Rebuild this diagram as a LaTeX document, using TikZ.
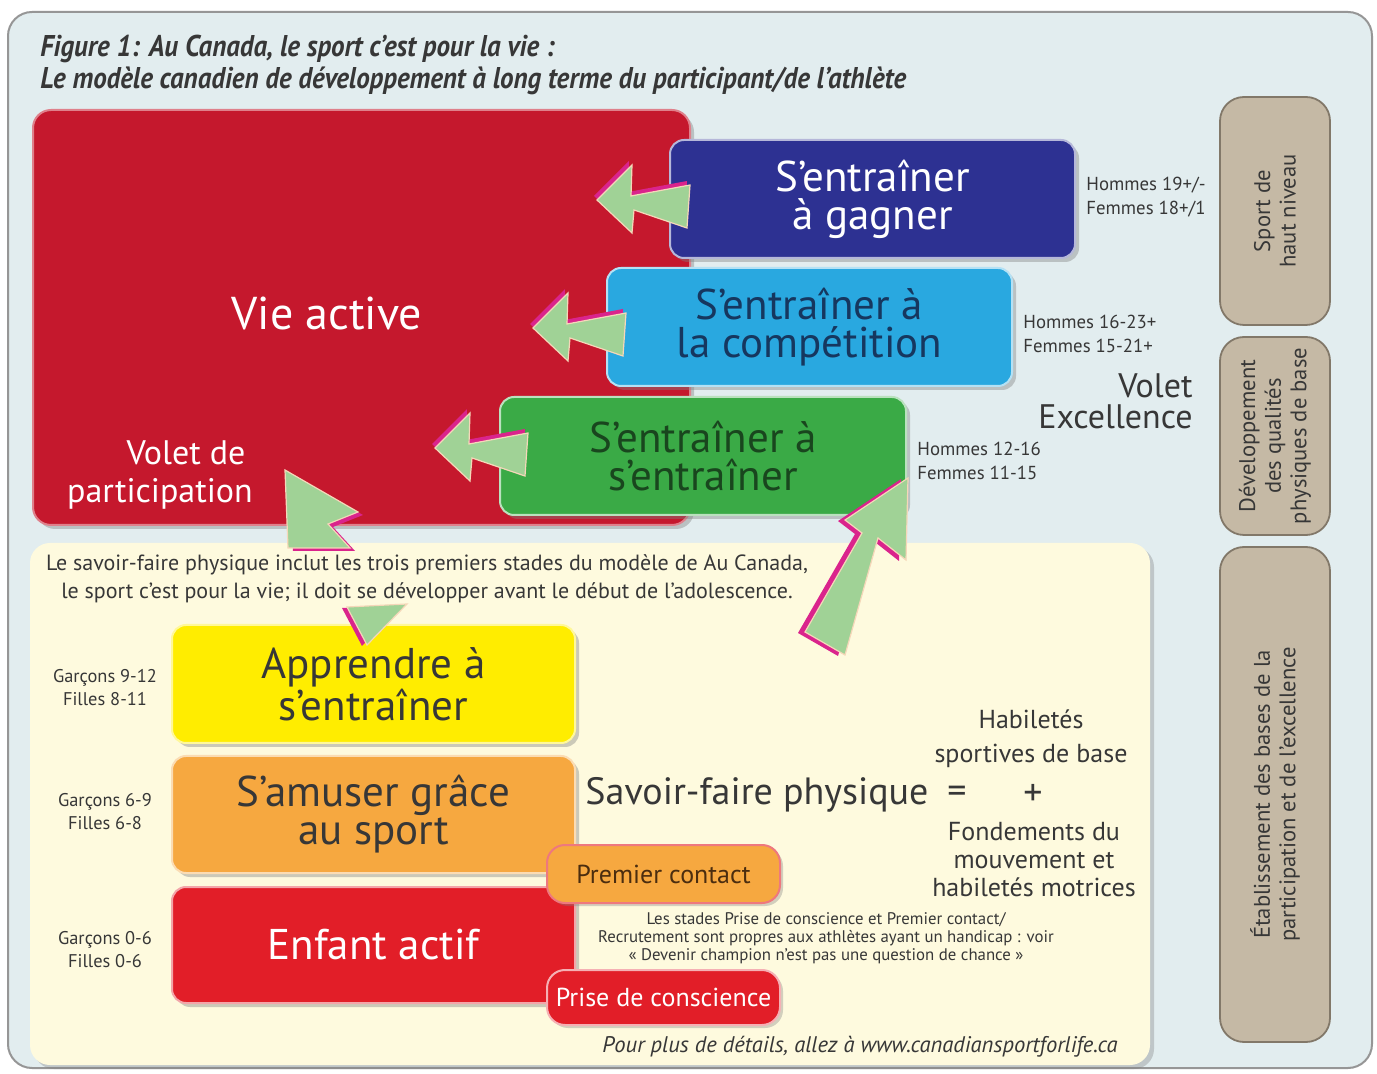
\documentclass[tikz,border=0pt]{standalone}
\usepackage{fontspec}
\setmainfont{PT Sans}
\newfontfamily\condfont[FakeStretch=0.9]{PT Sans}
\usetikzlibrary{shadows}
\definecolor{bgc}{RGB}{226,237,239}
\definecolor{framec}{RGB}{150,150,150}
\definecolor{redbig}{RGB}{197,24,45}
\definecolor{bluec}{RGB}{45,49,146}
\definecolor{ltbluec}{RGB}{41,168,224}
\definecolor{greenc}{RGB}{58,170,70}
\definecolor{creamc}{RGB}{254,250,222}
\definecolor{yellowc}{RGB}{255,237,0}
\definecolor{orangec}{RGB}{246,168,64}
\definecolor{red2c}{RGB}{226,30,40}
\definecolor{tanc}{RGB}{197,185,165}
\definecolor{tanedge}{RGB}{130,120,105}
\definecolor{argreen}{RGB}{160,210,150}
\definecolor{armag}{RGB}{218,36,140}
\definecolor{aredge}{RGB}{245,215,185}
\definecolor{darktext}{RGB}{55,55,55}
\definecolor{navytext}{RGB}{22,55,95}
\definecolor{dgreentext}{RGB}{25,70,30}
\definecolor{browntext}{RGB}{75,45,15}
\newcommand\lftshape[1]{\fill[#1] (0,0) -- (35,-35) -- (34,-4) -- (93,-15) -- (90,28) -- (37,10) -- (35,33) -- cycle;}
\newcommand\lftarrow[2]{%
  \begin{scope}[shift={(#1,#2)}]
    \lftshape{armag,shift={(-3,-4)}}
    \lftshape{argreen,draw=aredge,line width=0.6pt}
  \end{scope}}
\begin{document}
\begin{tikzpicture}[x=0.5pt,y=-0.5pt,
  stagebox/.style={rounded corners=7pt, line width=1pt, inner sep=0pt, align=center,
    font=\fontsize{21.5}{19}\selectfont,
    drop shadow={shadow xshift=2pt,shadow yshift=-2pt,opacity=0.4}},
  smallbox/.style={rounded corners=9pt, line width=1pt, inner sep=0pt, align=center,
    font=\fontsize{13}{13}\selectfont,
    drop shadow={shadow xshift=1.5pt,shadow yshift=-1.5pt,opacity=0.35}},
  tanbox/.style={fill=tanc, draw=tanedge, line width=0.9pt, rounded corners=12pt,
    rotate=90, minimum height=55pt, inner sep=0pt, align=center,
    font=\fontsize{11.3}{12.8}\selectfont, text=darktext},
  agetext/.style={align=left, inner sep=0pt, font=\fontsize{9.4}{12}\selectfont, text=darktext},
  kidage/.style={align=center, inner sep=0pt, font=\fontsize{9.2}{11.5}\selectfont, text=darktext},
  plain/.style={inner sep=0pt, text=darktext}
]
\useasboundingbox (0,0) rectangle (1377,1074);
\fill[white] (0,0) rectangle (1377,1074);
\draw[fill=bgc, draw=framec, line width=1pt, rounded corners=12pt] (8,12) rectangle (1372,1068);

% title
\node[plain, anchor=base west, font=\condfont\bfseries\itshape\fontsize{15}{16}\selectfont] (title1) at (40,57) {Figure 1: Au Canada, le sport c’est pour la vie :};
\node[plain, anchor=base west, font=\condfont\bfseries\itshape\fontsize{15}{16}\selectfont] (title2) at (40,89) {Le modèle canadien de développement à long terme du participant/de l’athlète};

% big red box
\node[stagebox, fill=redbig, draw=redbig!55!white, rounded corners=9pt, minimum width=328.5pt, minimum height=207.5pt] (actif) at (361.5,317.5) {};
\node[plain, text=white, font=\fontsize{23}{23}\selectfont] (vie) at (327,313) {Vie active};
\node[plain, text=white, font=\fontsize{17}{17}\selectfont] (vdp1) at (186,453) {Volet de};
\node[plain, text=white, font=\fontsize{17}{17}\selectfont] (vdp2) at (160,494) {participation};

% excellence stages
\node[stagebox, fill=bluec, draw=bluec!35!white, text=white, minimum width=202.5pt, minimum height=59pt] (gagner) at (872.5,199) {S’entraîner\\à gagner};
\node[stagebox, fill=ltbluec, draw=ltbluec!35!white, text=navytext, minimum width=202.5pt, minimum height=59pt] (compet) at (809.5,327) {S’entraîner à\\la compétition};
\node[stagebox, fill=greenc, draw=greenc!35!white, text=dgreentext, minimum width=203pt, minimum height=59pt] (sentr) at (703,456) {S’entraîner à\\s’entraîner};

\node[agetext, anchor=west] (age1) at (1086,197.5) {Hommes 19+/-\\Femmes 18+/1};
\node[agetext, anchor=west] (age2) at (1023,333.5) {Hommes 16-23+\\Femmes 15-21+};
\node[agetext, anchor=west] (age3) at (917,461) {Hommes 12-16\\Femmes 11-15};
\node[plain, anchor=east, align=right, font=\fontsize{17}{15.5}\selectfont] (excel) at (1193,401) {Volet\\Excellence};

% tan side boxes
\node[tanbox, minimum width=114pt] (haut) at (1275,211) {Sport de\\haut niveau};
\node[tanbox, minimum width=99pt] (qualites) at (1275,436) {Développement\\des qualités\\physiques de base};
\node[tanbox, minimum width=247.5pt] (bases) at (1275,794.5) {Établissement des bases de la\\participation et de l’excellence};

% cream box
\node[fill=creamc, rounded corners=10pt, inner sep=0pt, minimum width=560pt, minimum height=261pt,
  drop shadow={shadow xshift=2pt,shadow yshift=-2pt,opacity=0.35}] (cream) at (590,804) {};
\node[plain, align=center, font=\fontsize{11}{14}\selectfont] (savtxt) at (427,579) {Le savoir-faire physique inclut les trois premiers stades du modèle de Au Canada,\\le sport c’est pour la vie; il doit se développer avant le début de l’adolescence.};

% fundamental stages
\node[stagebox, fill=yellowc, draw=yellowc!40!white, text=darktext, minimum width=201.5pt, minimum height=59pt] (apprendre) at (373.5,684) {Apprendre à\\s’entraîner};
\node[stagebox, fill=orangec, draw=orangec!40!white, text=darktext, minimum width=201.5pt, minimum height=58.5pt] (amuser) at (373.5,814.5) {S’amuser grâce\\au sport};
\node[stagebox, fill=red2c, draw=red2c!40!white, text=white, minimum width=201.5pt, minimum height=58pt] (enfant) at (373.5,945) {Enfant actif};
\node[smallbox, fill=orangec, draw=red2c!60!white, text=browntext, minimum width=116.5pt, minimum height=29pt] (premier) at (663.5,874) {Premier contact};
\node[smallbox, fill=red2c, draw=red2c!35!white, text=white, minimum width=116.5pt, minimum height=27.5pt] (prise) at (663.5,997.5) {Prise de conscience};

\node[kidage] (kid1) at (105,687.5) {Garçons 9-12\\Filles 8-11};
\node[kidage] (kid2) at (105,811.5) {Garçons 6-9\\Filles 6-8};
\node[kidage] (kid3) at (105,949.5) {Garçons 0-6\\Filles 0-6};

\node[plain, font=\fontsize{19}{19}\selectfont] (sfp) at (757,795) {Savoir-faire physique};
\node[plain, font=\fontsize{19}{19}\selectfont] (eq) at (957,795) {=};
\node[plain, font=\fontsize{19}{19}\selectfont] (plus) at (1033,795) {+};
\node[plain, align=center, font=\fontsize{13}{17}\selectfont] (habil) at (1031,739) {Habiletés\\sportives de base};
\node[plain, align=center, font=\fontsize{13}{14}\selectfont] (fond) at (1034,860) {Fondements du\\mouvement et\\habiletés motrices};
\node[plain, align=center, font=\fontsize{8.4}{9}\selectfont] (note) at (826,938) {Les stades Prise de conscience et Premier contact/\\Recrutement sont propres aux athlètes ayant un handicap : voir\\« Devenir champion n’est pas une question de chance »};
\node[plain, font=\itshape\fontsize{11.3}{12}\selectfont] (footer) at (860,1047) {Pour plus de détails, allez à www.canadiansportforlife.ca};

% arrows toward Vie active
\lftarrow{597}{200}
\lftarrow{533}{328}
\lftarrow{435}{448}

% arrow from fundamentals up to participation
\fill[armag, shift={(5,3)}] (285,470) -- (358,512) -- (328,524) -- (350,548) -- (288,548) -- cycle;
\fill[argreen, draw=aredge, line width=0.6pt] (285,470) -- (358,512) -- (328,524) -- (350,548) -- (288,548) -- cycle;
\fill[armag, shift={(-5,1)}] (347,607) -- (407,604) -- (367,645) -- cycle;
\fill[argreen, draw=aredge, line width=0.6pt] (347,607) -- (407,604) -- (367,645) -- cycle;

% big arrow up to excellence
\fill[armag, shift={(-7,1)}] (908,478) -- (845,520) -- (862,533) -- (805,632) -- (845,655) -- (878,538) -- (906,560) -- cycle;
\fill[argreen, draw=aredge, line width=0.6pt] (908,478) -- (845,520) -- (862,533) -- (805,632) -- (845,655) -- (878,538) -- (906,560) -- cycle;
\end{tikzpicture}
\end{document}
